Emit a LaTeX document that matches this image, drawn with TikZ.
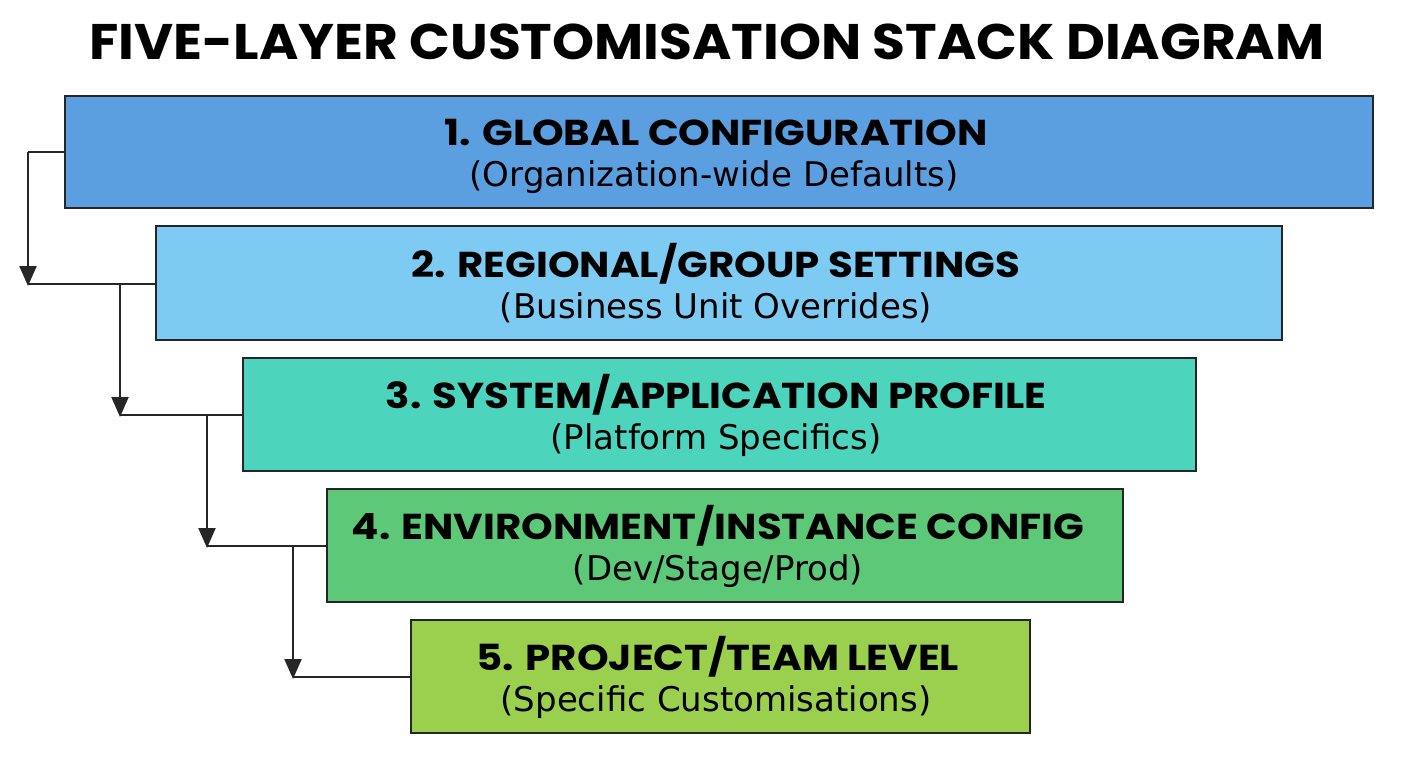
\documentclass[tikz,border=0pt]{standalone}
\usepackage{fontspec}
\setmainfont{DejaVu Sans}
\newfontfamily\headfont{Poppins}[UprightFont=* Bold]
\usetikzlibrary{arrows.meta}
\definecolor{cA}{HTML}{5B9FE0}
\definecolor{cB}{HTML}{7DCBF2}
\definecolor{cC}{HTML}{4DD4BD}
\definecolor{cD}{HTML}{5CC878}
\definecolor{cE}{HTML}{9BD04E}
\begin{document}
\begin{tikzpicture}[x=1pt,y=-1pt,
  layer/.style={draw=black!85,line width=2.4pt,anchor=north west,inner sep=0pt,align=center},
  conn/.style={draw=black!85,line width=2.2pt},
  arr/.style={conn,-{Triangle[length=20pt,width=17pt]}},
  tt/.style={font=\headfont\fontsize{36}{40}\selectfont,xscale=1.12},
  st/.style={font=\fontsize{34}{38}\selectfont}]
\useasboundingbox (0,0) rectangle (1408,768);
\node[font=\headfont\fontsize{50}{56}\selectfont,xscale=1.07] (title) at (707,42) {FIVE-LAYER CUSTOMISATION STACK DIAGRAM};
\node[layer,fill=cA,minimum width=1308pt,minimum height=112pt] (l1) at (64,95) {};
\node[tt] at (716,133) {1. GLOBAL CONFIGURATION};
\node[st] at (714,177) {(Organization-wide Defaults)};
\node[layer,fill=cB,minimum width=1126pt,minimum height=114pt] (l2) at (155,225) {};
\node[tt] at (716,264) {2. REGIONAL/GROUP SETTINGS};
\node[st] at (716,308) {(Business Unit Overrides)};
\node[layer,fill=cC,minimum width=953pt,minimum height=113pt] (l3) at (242,357) {};
\node[tt] at (716,395) {3. SYSTEM/APPLICATION PROFILE};
\node[st] at (716,440) {(Platform Specifics)};
\node[layer,fill=cD,minimum width=796pt,minimum height=113pt] (l4) at (326,488) {};
\node[tt] at (718,526) {4. ENVIRONMENT/INSTANCE CONFIG};
\node[st] at (718,571) {(Dev/Stage/Prod)};
\node[layer,fill=cE,minimum width=619pt,minimum height=113pt] (l5) at (410,619) {};
\node[tt] at (718,657) {5. PROJECT/TEAM LEVEL};
\node[st] at (716,702) {(Specific Customisations)};
\coordinate (a0) at (28,152);
\coordinate (a1) at (28,284);
\coordinate (b0) at (120,284);
\coordinate (b1) at (120,415);
\coordinate (c0) at (207,415);
\coordinate (c1) at (207,546);
\coordinate (d0) at (293,546);
\coordinate (d1) at (293,677);
\draw[conn] (a0 -| l1.west) -- (a0);
\draw[arr] (a0) -- ([yshift=-2pt]a1);
\draw[conn] (a1) -- (a1 -| l2.west);
\draw[arr] (b0) -- ([yshift=-2pt]b1);
\draw[conn] (b1) -- (b1 -| l3.west);
\draw[arr] (c0) -- ([yshift=-2pt]c1);
\draw[conn] (c1) -- (c1 -| l4.west);
\draw[arr] (d0) -- ([yshift=-2pt]d1);
\draw[conn] (d1) -- (d1 -| l5.west);
\end{tikzpicture}
\end{document}
